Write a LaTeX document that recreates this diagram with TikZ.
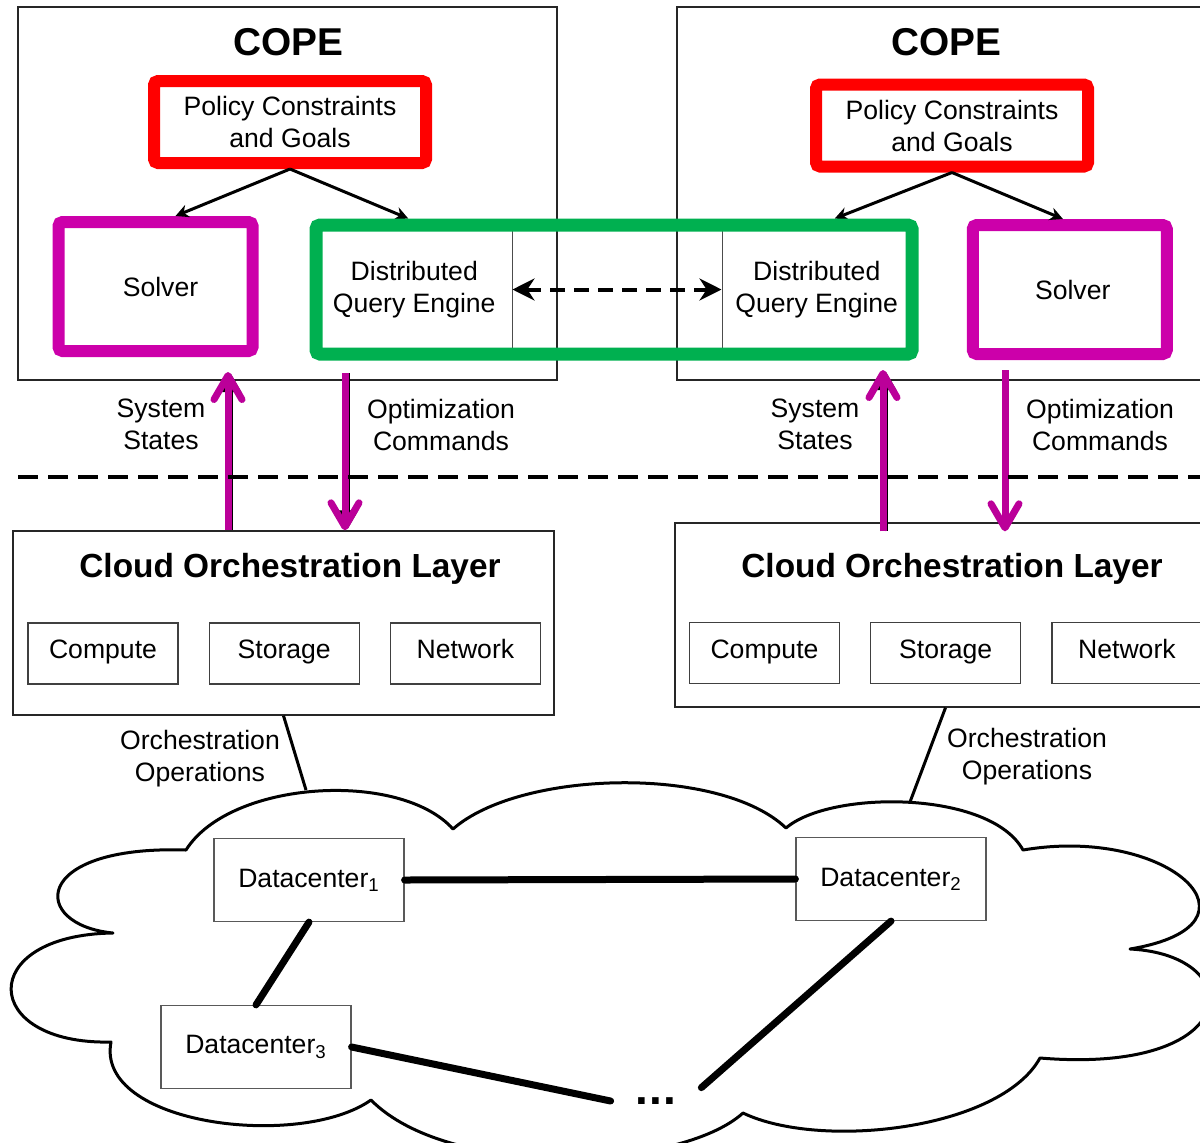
\documentclass[tikz,border=0pt]{standalone}
\usepackage{fontspec}
\setmainfont{Liberation Sans}
\usetikzlibrary{arrows.meta,positioning,calc}
\definecolor{polred}{RGB}{255,0,0}
\definecolor{solvmag}{RGB}{204,0,170}
\definecolor{arrmag}{RGB}{187,0,153}
\definecolor{dqegreen}{RGB}{0,176,80}

\begin{document}
\begin{tikzpicture}[x=0.5pt,y=-0.5pt,
    txt/.style={font=\fontsize{13.3}{16}\selectfont, align=center},
    thinframe/.style={draw=black!85, line width=0.7pt},
    policybox/.style={txt, draw=polred, line width=6pt, rounded corners=2pt, minimum width=136pt, minimum height=41pt, inner sep=0pt},
    solverbox/.style={txt, draw=solvmag, line width=6pt, rounded corners=2pt, minimum width=97pt, minimum height=64.5pt},
    dqebox/.style={txt, draw=black!70, line width=0.5pt, minimum height=64pt, inner sep=0pt},
    copetitle/.style={font=\fontsize{19.4}{22}\selectfont\bfseries},
    coltitle/.style={font=\fontsize{16.7}{20}\selectfont\bfseries},
    resbox/.style={txt, draw=black!75, line width=0.6pt, minimum width=75pt, minimum height=30.5pt, text height=0.72em, text depth=0.21em},
    dcbox/.style={txt, draw=black!65, line width=0.6pt, minimum width=95pt, minimum height=41.5pt},
    policyarrow/.style={-{Stealth[length=6.5pt,width=6.5pt]}, line width=1.5pt},
    dqelink/.style={{Stealth[length=11pt,width=11pt]}-{Stealth[length=11pt,width=11pt]}, line width=2pt, dash pattern=on 7.5pt off 4.5pt},
    cmdarrow/.style={arrmag, line width=3.5pt, -{Straight Barb[length=12pt,width=14pt,round]}},
    shadowarrow/.style={black, line width=1.5pt, -{Triangle[length=9pt,width=10pt]}},
    divider/.style={line width=2pt, dash pattern=on 10pt off 5pt},
    opsline/.style={line width=1.5pt},
    cloudline/.style={line width=1.5pt, line join=round},
    dclink/.style={line width=3.5pt, line cap=round}]
    \clip (0,0) rectangle (1200,1142);

    % COPE frames
    \draw[thinframe] (18,7) rectangle (557,380);
    \draw[thinframe] (677,7) rectangle (1216,380);
    \node[copetitle] (copeL) at (288,42) {COPE};
    \node[copetitle] (copeR) at (946,42) {COPE};

    \node[policybox] (polL) at (290,122) {Policy Constraints\\and Goals};
    \node[policybox] (polR) at (952,125.5) {Policy Constraints\\and Goals};

    \node[solverbox] (solL) at (155.5,286.5) {\hspace{5pt}Solver};
    \node[solverbox] (solR) at (1069.75,289.5) {\hspace{3pt}Solver};
    \node[dqebox, minimum width=97.75pt] (dqeL) at (414.25,289.5) {Distributed\\Query Engine};
    \node[dqebox, minimum width=94.75pt] (dqeR) at (816.75,289.5) {Distributed\\Query Engine};

    \draw[policyarrow] (polL.south) -- ([xshift=10pt]solL.north);
    \draw[policyarrow] (polL.south) -- ([xshift=-3pt,yshift=3.25pt]dqeL.north);
    \draw[policyarrow] (polR.south) -- ([xshift=9pt,yshift=3.25pt]dqeR.north);
    \draw[policyarrow] (polR.south) -- ([xshift=-3.4pt]solR.north);
    \draw[dqegreen, line width=6.5pt, rounded corners=2pt] (dqeL.north west) rectangle (dqeR.south east);
    \draw[dqelink] (dqeL.east) -- (dqeR.west);

    % orchestration layers
    \node[thinframe, minimum width=270.5pt, minimum height=92pt] (colL) at (283.5,623) {};
    \node[thinframe, minimum width=270.5pt, minimum height=92pt] (colR) at (945.5,615) {};
    \node[coltitle] (colLt) at (290,569) {Cloud Orchestration Layer};
    \node[coltitle] (colRt) at (952,569) {Cloud Orchestration Layer};
    \node[resbox] (cmpL) at (103,653.5) {Compute};
    \node[resbox, right=15pt of cmpL] (stoL) {Storage};
    \node[resbox, right=15pt of stoL] (netL) {Network};
    \node[resbox] (cmpR) at (764.5,653) {Compute};
    \node[resbox, right=15pt of cmpR] (stoR) {Storage};
    \node[resbox, right=15pt of stoR] (netR) {Network};

    % states and commands
    \coordinate (upL) at (228,372);
    \coordinate (dnL) at (345,373);
    \coordinate (upR) at (883,370);
    \coordinate (dnR) at (1005,370);
    \draw[shadowarrow] ($(upL |- colL.north)+(3,0)$) -- ($(upL)+(3,2)$);
    \draw[shadowarrow] ($(dnL)+(3,0)$) -- ($(dnL |- colL.north)+(3,-2)$);
    \draw[shadowarrow] ($(upR |- colR.north)+(3,9)$) -- ($(upR)+(3,2)$);
    \draw[cmdarrow] (upL |- colL.north) -- (upL);
    \draw[cmdarrow] (dnL) -- (dnL |- colL.north);
    \draw[cmdarrow] ($(upR |- colR.north)+(0,9)$) -- (upR);
    \draw[cmdarrow] (dnR) -- ($(dnR |- colR.north)+(0,9)$);
    \node[txt] (ssL) at (161,424.5) {System\\States};
    \node[txt] (ocL) at (441,425) {Optimization\\Commands};
    \node[txt] (ssR) at (815,424) {System\\States};
    \node[txt] (ocR) at (1100,425) {Optimization\\Commands};

    \draw[divider] (18,477) -- (1200,477);

    % cloud
    \draw[cloudline] (186,850) .. controls (230,780) and (400,770) .. (453,829)
        .. controls (520,770) and (720,765) .. (786,828)
        .. controls (830,790) and (990,790) .. (1023,850)
        .. controls (1170,825) and (1275,925) .. (1130,949)
        .. controls (1250,955) and (1245,1075) .. (1040,1058)
        .. controls (1000,1130) and (820,1150) .. (743,1113)
        .. controls (680,1170) and (450,1180) .. (371,1100)
        .. controls (300,1150) and (95,1125) .. (111,1042)
        .. controls (-20,1045) and (-25,935) .. (113,933)
        .. controls (30,925) and (30,845) .. (186,850) -- cycle;

    \coordinate (opsL) at (306,790);
    \coordinate (opsR) at (910,802);
    \draw[opsline] (colL.south) -- (opsL);
    \draw[opsline] (colR.south) -- (opsR);
    \node[txt] (oopL) at (200,759) {Orchestration\\Operations};
    \node[txt] (oopR) at (1027,757) {Orchestration\\Operations};

    \node[dcbox] (dc1) at (309,880) {Datacenter\textsubscript{1}};
    \node[dcbox] (dc2) at (891,879) {Datacenter\textsubscript{2}};
    \node[dcbox] (dc3) at (256,1047) {Datacenter\textsubscript{3}};
    \node[font=\fontsize{23}{23}\selectfont\bfseries, minimum width=45pt, minimum height=13pt, inner sep=0pt] (dots) at (656,1101) {.\hspace{0.6pt}.\hspace{0.6pt}.};

    \draw[dclink] (dc1.east) -- (dc2.west);
    \draw[dclink] (dc1.south) -- (dc3.north);
    \draw[dclink] (dc3.east) -- (dots.west);
    \draw[dclink] (dc2.south) -- (dots.north east);
\end{tikzpicture}
\end{document}
